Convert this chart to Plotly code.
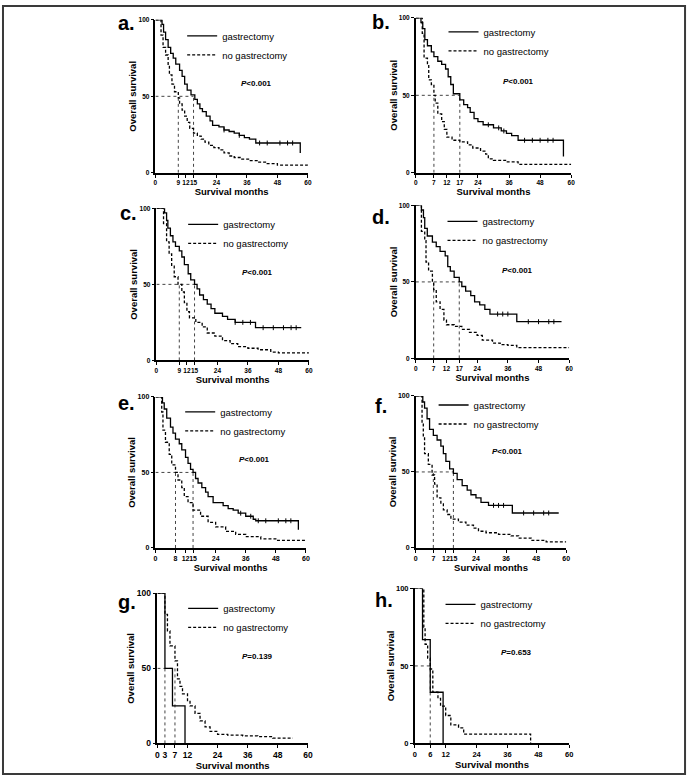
import numpy as np
import plotly.graph_objects as go

W, H = 694, 781
FONT = "Liberation Sans"

# ------------------------- data -------------------------
# panel a
a_gas_t = [0, 2.6, 3.2, 4, 5, 6, 7, 8, 9.5, 10.5, 11.5, 12.5, 14, 15.5, 16.5, 17.5, 18.5, 20, 21.5, 22.5, 25, 27, 29, 31, 33, 35, 37, 39.5, 57, 57]
a_gas_s = [100, 97, 92, 87, 82, 78, 75, 71, 67, 63, 58, 54, 51, 48, 45, 42, 40, 37, 34, 31, 30, 28, 27, 26, 24.5, 23, 22, 19.5, 19.5, 13]
a_nog_t = [0, 2.2, 3, 4, 5, 5.5, 6.5, 7.5, 9, 9.5, 10.5, 11.5, 12.5, 13.5, 15, 16.5, 18, 19.5, 21, 23, 25, 27, 29, 31, 34, 37, 40, 44, 48, 60]
a_nog_s = [100, 90, 82, 77, 70, 64, 58, 53, 49, 45, 41, 37, 33, 29, 26, 24, 22, 20, 18, 16.5, 15, 13, 11, 10, 9, 8, 7, 6, 5, 4.5]
a_gas_cens = [27, 33, 41, 44, 49, 52, 54]
a_medians = [9, 15]
a_xticks = [0, 9, 12, 15, 24, 36, 48, 60]
a_p = "&lt;0.001"

# panel b
b_gas_t = [0, 2, 2.7, 3.5, 4.5, 6, 7, 8.5, 10, 11.5, 12.5, 13.5, 14.5, 17, 18.5, 20, 21, 22.5, 24, 26, 30, 33, 35, 37, 39.5, 57, 57]
b_gas_s = [100, 97, 93, 86, 82, 78, 75, 72, 70, 67, 62, 57, 51, 47, 44, 42, 39, 35, 33, 31, 29, 27, 25.5, 24, 21, 21, 10.5]
b_nog_t = [0, 2.5, 3.2, 4.5, 5, 6, 7, 7.5, 8.5, 10, 11, 12, 14, 17, 20, 22, 25, 27, 28, 30, 35, 39.5, 60]
b_nog_s = [100, 90, 74, 70, 60, 57, 50, 45, 38, 33, 28, 23, 21, 20, 18, 16, 14, 12, 9, 8, 7, 5.5, 5.5]
b_gas_cens = [28, 32, 34, 42, 45, 48, 51, 53]
b_medians = [7, 17]
b_xticks = [0, 7, 12, 17, 24, 36, 48, 60]
b_p = "&lt;0.001"

# panel c
c_gas_t = [0, 3.2, 4, 4.5, 5.5, 6.5, 7.5, 9, 10, 11, 12.5, 13.5, 15, 16, 17, 18.5, 20, 21.5, 23, 26, 28, 31, 39, 57]
c_gas_s = [100, 97, 92, 87, 82, 78, 75, 72, 68, 63, 57, 53, 50, 47, 43, 40, 37, 34, 31, 29, 27, 25, 21.5, 21.5]
c_nog_t = [0, 2.8, 4, 5, 6, 7, 8.5, 10, 11, 12, 13, 15.5, 18, 20, 23, 26, 29, 32, 36, 40, 45, 48, 60]
c_nog_s = [100, 90, 78, 70, 62, 55, 50, 45, 38, 32, 28, 25, 22, 18, 16, 13, 11, 9, 8, 7, 5.5, 5, 4.5]
c_gas_cens = [31, 34, 37, 42, 46, 50, 53, 55]
c_medians = [9, 15]
c_xticks = [0, 9, 12, 15, 24, 36, 48, 60]
c_p = "&lt;0.001"

# panel d
d_gas_t = [0, 2.2, 3, 3.5, 4.5, 6.5, 8, 9.5, 11.5, 12.5, 13.5, 15, 17, 18, 19.5, 21.5, 23, 25, 27, 29, 39.5, 57]
d_gas_s = [100, 97, 92, 85, 80, 76, 73, 70, 67, 60, 57, 53, 50, 47, 44, 41, 37, 35, 32, 29, 24, 24]
d_nog_t = [0, 2.2, 3.5, 4, 5, 6.5, 7, 8, 9.5, 11, 12, 15, 18, 21, 24, 26, 30, 33, 36, 39.5, 60]
d_nog_s = [100, 83, 77, 63, 57, 50, 45, 37, 32, 25, 22, 21, 19, 17, 15, 12, 10, 9, 8.5, 7, 7]
d_gas_cens = [32, 34, 36, 44, 48, 52, 54]
d_medians = [7, 17]
d_xticks = [0, 7, 12, 17, 24, 36, 48, 60]
d_p = "&lt;0.001"

# panel e
e_gas_t = [0, 2.8, 3.5, 4.5, 6, 7, 8, 9.5, 10.5, 12, 13, 14, 15, 16, 17, 18.5, 20, 21, 23, 27, 29, 31, 33, 36, 39, 40, 57, 57]
e_gas_s = [100, 96, 92, 86, 80, 76, 72, 69, 65, 60, 56, 52, 50, 46, 43, 40, 37, 34, 30, 28, 26, 25, 23, 21, 19, 18, 18, 12]
e_nog_t = [0, 2.5, 3, 4, 5.5, 6.5, 8, 9, 10.5, 11.5, 13, 15, 18, 21, 24, 28, 32, 36, 42, 48, 60]
e_nog_s = [100, 90, 78, 70, 62, 55, 50, 45, 40, 34, 30, 25, 21, 17, 14, 11, 9, 7.5, 6, 5, 4.5]
e_gas_cens = [34, 38, 41, 44, 49, 52, 54]
e_medians = [8, 15]
e_xticks = [0, 8, 12, 15, 24, 36, 48, 60]
e_p = "&lt;0.001"

# panel f
f_gas_t = [0, 2.8, 3.5, 4.5, 5.5, 7, 8.5, 10, 11, 12, 13.5, 15, 16.5, 18.5, 20.5, 22, 24, 26, 29, 38.5, 57]
f_gas_s = [100, 96, 92, 85, 78, 74, 71, 67, 62, 57, 52, 49, 45, 41, 38, 35, 33, 30, 28, 23, 23]
f_nog_t = [0, 2.5, 3, 3.5, 5, 6.5, 7.5, 8.5, 10, 11, 12.5, 14, 17, 20, 23, 25, 28, 33, 38, 41, 46, 52, 60]
f_nog_s = [100, 82, 73, 62, 55, 48, 42, 33, 29, 25, 22, 19, 17, 15, 13, 11, 10, 9, 8, 6.5, 5, 4, 4]
f_gas_cens = [31, 33, 35, 43, 47, 51, 53]
f_medians = [7, 15]
f_xticks = [0, 7, 12, 15, 24, 36, 48, 60]
f_p = "&lt;0.001"

# panel g
g_gas_t = [0, 3, 6, 11]
g_gas_s = [100, 50, 25, 0]
g_nog_t = [0, 3, 4, 5, 7, 8, 9, 10, 12, 13, 15, 17, 19, 21, 24, 28, 34, 40, 46, 54]
g_nog_s = [100, 86, 75, 65, 55, 43, 38, 33, 28, 25, 20, 15, 11, 8, 6, 5.5, 5, 4.5, 3.5, 3.5]
g_gas_cens = []
g_medians = [3, 7]
g_xticks = [0, 3, 7, 12, 24, 36, 48, 60]
g_p = "=0.139"

# panel h
h_gas_t = [0, 3, 6, 11]
h_gas_s = [100, 67, 33, 0]
h_nog_t = [0, 3.5, 4, 5, 6, 7, 9, 10, 12, 14, 17, 19, 45, 45]
h_nog_s = [100, 75, 64, 55, 48, 33, 29, 24, 18, 12, 10, 6, 6, 0]
h_gas_cens = []
h_medians = [6]
h_xticks = [0, 6, 12, 24, 36, 48, 60]
h_p = "=0.653"

yticks = [0, 50, 100]
series_names = ["gastrectomy", "no gastrectomy"]

# ------------------------- layout (pixels) -------------------------
panels = [
    dict(lab="a.", gt=a_gas_t, gs=a_gas_s, nt=a_nog_t, ns=a_nog_s, gc=a_gas_cens, med=a_medians, xt=a_xticks, p=a_p,
         box=(155, 309, 15, 170), tf=6.5, labpos=(115, 18), leg=(222, 32), ppos=(257, 80)),
    dict(lab="b.", gt=b_gas_t, gs=b_gas_s, nt=b_nog_t, ns=b_nog_s, gc=b_gas_cens, med=b_medians, xt=b_xticks, p=b_p,
         box=(418, 575, 13, 170), tf=6.5, labpos=(372, 17), leg=(486, 28), ppos=(522, 77)),
    dict(lab="c.", gt=c_gas_t, gs=c_gas_s, nt=c_nog_t, ns=c_nog_s, gc=c_gas_cens, med=c_medians, xt=c_xticks, p=c_p,
         box=(156, 310, 206, 360), tf=6.5, labpos=(117, 211), leg=(223, 223), ppos=(258, 271)),
    dict(lab="d.", gt=d_gas_t, gs=d_gas_s, nt=d_nog_t, ns=d_nog_s, gc=d_gas_cens, med=d_medians, xt=d_xticks, p=d_p,
         box=(418, 573, 203, 358), tf=6.5, labpos=(372, 215), leg=(485, 220), ppos=(521, 269)),
    dict(lab="e.", gt=e_gas_t, gs=e_gas_s, nt=e_nog_t, ns=e_nog_s, gc=e_gas_cens, med=e_medians, xt=e_xticks, p=e_p,
         box=(155, 307, 397, 550), tf=7, labpos=(115, 403), leg=(220, 413), ppos=(255, 460)),
    dict(lab="f.", gt=f_gas_t, gs=f_gas_s, nt=f_nog_t, ns=f_nog_s, gc=f_gas_cens, med=f_medians, xt=f_xticks, p=f_p,
         box=(418, 570, 396, 550), tf=7, labpos=(375, 406), leg=(476, 406), ppos=(511, 452)),
    dict(lab="g.", gt=g_gas_t, gs=g_gas_s, nt=g_nog_t, ns=g_nog_s, gc=g_gas_cens, med=g_medians, xt=g_xticks, p=g_p,
         box=(157, 309, 596, 748), tf=8.5, labpos=(115, 605), leg=(223, 612), ppos=(258, 660)),
    dict(lab="h.", gt=h_gas_t, gs=h_gas_s, nt=h_nog_t, ns=h_nog_s, gc=h_gas_cens, med=h_medians, xt=h_xticks, p=h_p,
         box=(417, 573, 591, 748), tf=7.5, labpos=(375, 603), leg=(483, 608), ppos=(520, 656)),
]


def px(x):
    return x / W


def py(y):
    return 1 - y / H


def step_val(ts, ss, t):
    i = np.searchsorted(np.array(ts), t, side="right") - 1
    return ss[i]


fig = go.Figure()
layout = dict(
    width=W, height=H, margin=dict(l=0, r=0, t=0, b=0),
    paper_bgcolor="white", plot_bgcolor="white",
    font=dict(family=FONT, color="black"),
    annotations=[], shapes=[],
)

for i, pn in enumerate(panels, start=1):
    xa = "x" if i == 1 else f"x{i}"
    ya = "y" if i == 1 else f"y{i}"
    lg = "legend" if i == 1 else f"legend{i}"
    x0, x1, yt, yb = pn["box"]

    # median reference lines
    med = pn["med"]
    fig.add_trace(go.Scatter(x=[0, max(med)], y=[50, 50], mode="lines", xaxis=xa, yaxis=ya,
                             line=dict(color="#444", width=1, dash="dot"), showlegend=False, hoverinfo="skip"))
    for m in med:
        fig.add_trace(go.Scatter(x=[m, m], y=[0, 50], mode="lines", xaxis=xa, yaxis=ya,
                                 line=dict(color="#444", width=1, dash="dot"), showlegend=False, hoverinfo="skip"))

    # survival curves
    fig.add_trace(go.Scatter(x=pn["gt"], y=pn["gs"], mode="lines", line_shape="hv", name=series_names[0],
                             xaxis=xa, yaxis=ya, legend=lg, line=dict(color="black", width=1.3)))
    fig.add_trace(go.Scatter(x=pn["nt"], y=pn["ns"], mode="lines", line_shape="hv", name=series_names[1],
                             xaxis=xa, yaxis=ya, legend=lg,
                             line=dict(color="black", width=1.3, dash="3px,2px")))
    if pn["gc"]:
        fig.add_trace(go.Scatter(x=pn["gc"], y=[step_val(pn["gt"], pn["gs"], t) for t in pn["gc"]],
                                 mode="markers", xaxis=xa, yaxis=ya, showlegend=False, hoverinfo="skip",
                                 marker=dict(symbol="line-ns", size=3.5, line=dict(width=1, color="black"))))

    tickfont = dict(family=FONT, size=pn["tf"], color="black", weight=700)
    titlefont = dict(family=FONT, size=9.5, color="black", weight=700)
    layout["xaxis" if i == 1 else f"xaxis{i}"] = dict(
        domain=[px(x0), px(x1)], anchor=ya, range=[0, 60], tickvals=pn["xt"], showgrid=False, zeroline=False,
        showline=True, linecolor="black", linewidth=1.5, ticks="outside", ticklen=3, tickwidth=1,
        tickcolor="black", tickfont=tickfont, tickangle=0,
        title=dict(text="Survival months", font=titlefont, standoff=2),
    )
    layout["yaxis" if i == 1 else f"yaxis{i}"] = dict(
        domain=[py(yb), py(yt)], anchor=xa, range=[0, 100], tickvals=yticks, showgrid=False, zeroline=False,
        showline=True, linecolor="black", linewidth=1.5, ticks="outside", ticklen=3, tickwidth=1,
        tickcolor="black", tickfont=tickfont, tickangle=0,
        title=dict(text="Overall survival", font=titlefont, standoff=0),
    )
    lx, ly = pn["leg"]
    layout[lg] = dict(x=px(lx - 40), y=py(ly - 15.5), xanchor="left", yanchor="top",
                      bgcolor="rgba(0,0,0,0)", font=dict(family=FONT, size=9.5, color="black"),
                      itemwidth=30, tracegroupgap=0)

    # panel letter
    layout["annotations"].append(dict(text=pn["lab"], x=px(pn["labpos"][0]), y=py(pn["labpos"][1]),
                                      xref="paper", yref="paper", xanchor="left", yanchor="middle",
                                      showarrow=False, font=dict(family=FONT, size=20, color="black", weight=700)))
    # p value
    layout["annotations"].append(dict(text=f"<b><i>P</i>{pn['p']}</b>", x=px(pn["ppos"][0]), y=py(pn["ppos"][1]),
                                      xref="paper", yref="paper", xanchor="center", yanchor="middle",
                                      showarrow=False, font=dict(family=FONT, size=8, color="black")))

# outer frame
layout["shapes"].append(dict(type="rect", xref="paper", yref="paper", x0=px(1), x1=px(690), y0=py(779), y1=py(1),
                             line=dict(color="#3a3a3a", width=2)))

fig.update_layout(**layout)
fig.write_html("out.html", config={"displayModeBar": False},
               post_script="document.body.style.margin='0';document.body.style.overflow='hidden';")
